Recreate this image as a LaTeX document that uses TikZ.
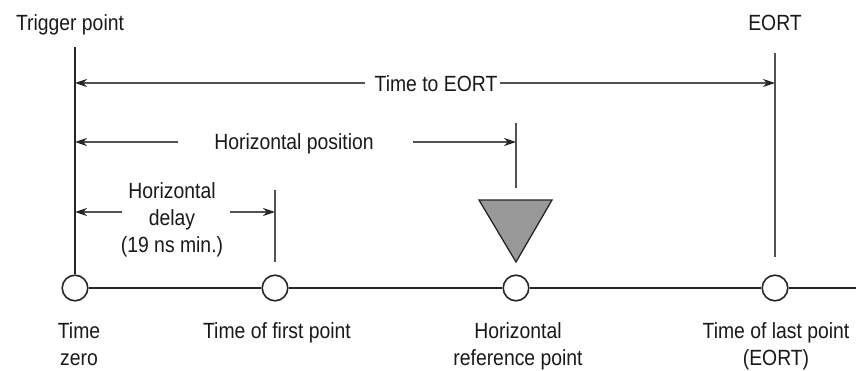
\documentclass[tikz,border=0pt]{standalone}
\usepackage{fontspec}
\setmainfont[FakeStretch=0.88]{Liberation Sans}
\usetikzlibrary{arrows.meta}
\begin{document}
\begin{tikzpicture}[x=1pt,y=-1pt,
  lbl/.style={font=\fontsize{22}{26.5}\selectfont, inner sep=0pt, align=center, text=black!90, anchor=base},
  thickline/.style={line width=1.8pt, draw=black!85},
  thinline/.style={line width=1.3pt, draw=black!68},
  arr/.style={thinline, -{Stealth[length=12pt,width=8pt,color=black!85]}},
  pt/.style={circle, draw=black!85, line width=1.6pt, fill=white, minimum size=25.6pt, inner sep=0pt},
  tri/.style={draw=black!85, line width=1.3pt, fill=black!40, line join=miter}]
\useasboundingbox (0,0) rectangle (856,371);

% time-line points
\node[pt] (c0) at (75,288) {};
\node[pt] (c1) at (275,288) {};
\node[pt] (c2) at (516,288) {};
\node[pt] (c3) at (775,288) {};
\coordinate (lineend) at (856,288);
\draw[thickline] (c0) -- (c1);
\draw[thickline] (c1) -- (c2);
\draw[thickline] (c2) -- (c3);
\draw[thickline] (c3) -- (lineend);

% vertical markers
\coordinate (trigtop) at (75,47);
\draw[thickline] (trigtop) -- (c0.north);
\coordinate (eorttop) at (775,53);
\coordinate (eortbot) at (775,257);
\draw[thinline] (eorttop) -- (eortbot);
\coordinate (hptop) at (516,123);
\coordinate (hpbot) at (516,188);
\draw[thinline] (hptop) -- (hpbot);
\coordinate (dtop) at (275,190);
\coordinate (dbot) at (275,262);
\draw[thinline] (dtop) -- (dbot);

% triangle marker
\coordinate (triL) at (479,200);
\coordinate (triR) at (552,200);
\coordinate (triB) at (516,262);
\draw[tri] (triL) -- (triR) -- (triB) -- cycle;

% top labels
\node[lbl] (trig) at (70,30.5) {Trigger point};
\node[lbl] (eort) at (775,30.5) {EORT};

% Time to EORT
\node[lbl] (tte) at (436,91.5) {Time to EORT};
\coordinate (tLs) at (365,83);
\coordinate (tL) at (75,83);
\coordinate (tRs) at (500,83);
\coordinate (tR) at (775,83);
\draw[arr] (tLs) -- (tL);
\draw[arr] (tRs) -- (tR);

% Horizontal position
\node[lbl] (hpos) at (294,150) {Horizontal position};
\coordinate (hpLs) at (178,142);
\coordinate (hpL) at (75,142);
\coordinate (hpRs) at (413,142);
\coordinate (hpR) at (516,142);
\draw[arr] (hpLs) -- (hpL);
\draw[arr] (hpRs) -- (hpR);

% Horizontal delay
\node[lbl] (hdel) at (172,252) {Horizontal\\delay\\(19 ns min.)};
\coordinate (dLs) at (122,212);
\coordinate (dL) at (75,212);
\coordinate (dRs) at (230,212);
\coordinate (dR) at (275,212);
\draw[arr] (dLs) -- (dL);
\draw[arr] (dRs) -- (dR);

% bottom labels
\node[lbl] (l0) at (79,365) {Time\\zero};
\node[lbl] (l1) at (277,338) {Time of first point};
\node[lbl] (l2) at (518,365) {Horizontal\\reference point};
\node[lbl] (l3) at (776,365) {Time of last point\\(EORT)};
\end{tikzpicture}
\end{document}
